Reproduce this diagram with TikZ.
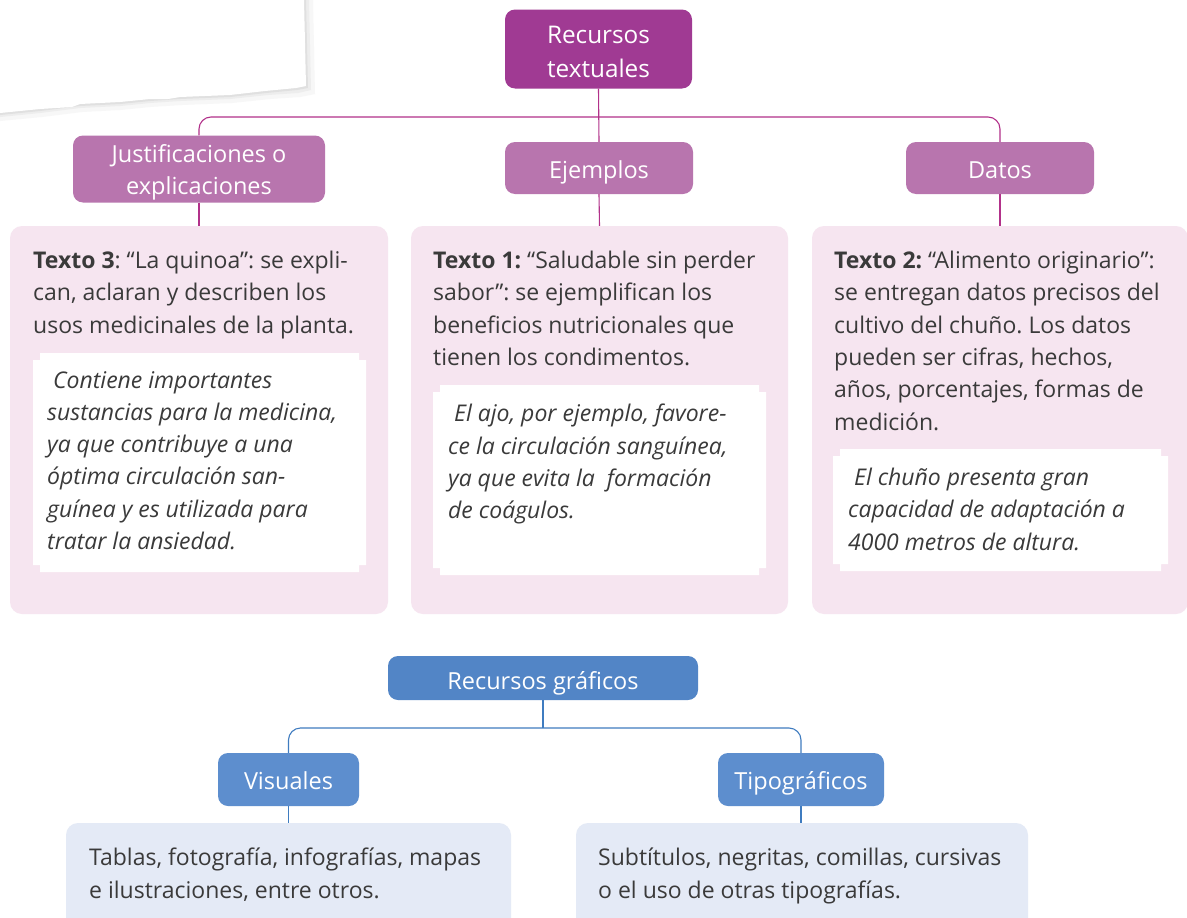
\documentclass[tikz,border=0pt]{standalone}
\usepackage{fontspec}
\setmainfont{Open Sans}
\frenchspacing
\definecolor{tmain}{HTML}{A03A93}
\definecolor{tchild}{HTML}{B875AE}
\definecolor{tline}{HTML}{B2318A}
\definecolor{tpink}{HTML}{F6E5F0}
\definecolor{bmain}{HTML}{5285C6}
\definecolor{bchild}{HTML}{5D8ECE}
\definecolor{bline}{HTML}{3F7CC0}
\definecolor{bpale}{HTML}{E4EAF6}
\definecolor{txt}{HTML}{3A3A3A}
\newcommand\notchbox[4]{%
  \fill[white] (#1+7,#2) -- (#3-7,#2) -- (#3-7,#2+7) -- (#3,#2+7) -- (#3,#4-7) -- (#3-7,#4-7) -- (#3-7,#4) -- (#1+7,#4) -- (#1+7,#4-7) -- (#1,#4-7) -- (#1,#2+7) -- (#1+7,#2+7) -- cycle;}
\tikzset{
  headbox/.style={rounded corners=10pt, inner sep=0pt},
  hlabel/.style={inner sep=0pt, text=white, align=center, font=\fontsize{23.5}{32}\selectfont},
  slabel/.style={inner sep=0pt, text=white, font=\fontsize{23.5}{32}\selectfont, text height=20pt, text depth=0pt},
  toplabel/.style={hlabel, font=\fontsize{24.3}{34}\selectfont},
  topbox/.style={headbox, fill=tmain},
  childbox/.style={headbox, fill=tchild},
  btopbox/.style={headbox, fill=bmain},
  bchildbox/.style={headbox, fill=bchild},
  pinkbox/.style={rounded corners=12pt, fill=tpink, inner sep=0pt},
  palebox/.style={rounded corners=12pt, fill=bpale, inner sep=0pt},
  bodytext/.style={anchor=north west, inner sep=0pt, align=left, text=txt, font=\fontsize{23}{32.3}\selectfont},
  itext/.style={bodytext, font=\fontsize{23}{32.3}\selectfont\itshape},
  tconn/.style={draw=tline, line width=1.1pt},
  bconn/.style={draw=bline, line width=1.1pt},
}
\begin{document}
\begin{tikzpicture}[x=1pt,y=-1pt]
\useasboundingbox (0,0) rectangle (1187,918);
\clip (0,0) rectangle (1187,918);
\fill[white] (0,0) rectangle (1187,918);
% torn paper with shadow
\fill[black!3] (313,0) -- (315,94) -- (300,97) -- (270,99) -- (232,103) -- (182,105) -- (150,107) -- (120,110) -- (82,112) -- (42,117) -- (0,121) -- (0,0) -- cycle;
\fill[black!7] (309,0) -- (311,90) -- (298,93) -- (268,95) -- (230,99) -- (180,101) -- (150,103) -- (120,106) -- (80,108) -- (40,113) -- (0,117) -- (0,0) -- cycle;
\fill[black!12] (306,0) -- (308,88) -- (297,90) -- (266,93) -- (230,97) -- (180,99) -- (150,101) -- (120,104) -- (80,106) -- (40,111) -- (0,115) -- (0,0) -- cycle;
\fill[white] (304,0) -- (306,86) -- (296,88) -- (265,91) -- (230,95) -- (205,96) -- (180,97) -- (168,99) -- (150,99) -- (120,102) -- (80,104) -- (72,107) -- (40,109) -- (0,113) -- (0,0) -- cycle;

% textual resources
\node[topbox, minimum width=187pt, minimum height=79pt, label={[toplabel, yshift=-3pt]center:{Recursos\\textuales}}] (rt) at (598.5,49) {};
\node[childbox, minimum width=252pt, minimum height=67pt, label={[hlabel, yshift=-3pt]center:{Justificaciones o\\explicaciones}}] (just) at (199,169) {};
\node[childbox, minimum width=188pt, minimum height=52pt, label={[slabel]center:Ejemplos}] (ej) at (599,168) {};
\node[childbox, minimum width=188pt, minimum height=52pt, label={[slabel]center:Datos}] (dat) at (1000,168) {};
\coordinate (thub) at (599,117);
\draw[tconn] (rt.south) -- (ej.north);
\draw[tconn, rounded corners=12pt] (just.north) |- (thub) -| (dat.north);

\node[pinkbox, minimum width=378pt, minimum height=388pt] (c1) at (199,420) {};
\node[pinkbox, minimum width=377pt, minimum height=388pt] (c2) at (599.5,420) {};
\node[pinkbox, minimum width=376pt, minimum height=388pt] (c3) at (1000,420) {};
\draw[tconn] (just.south) -- (c1.north);
\draw[tconn] (ej.south) -- (c2.north);
\draw[tconn] (dat.south) -- (c3.north);

\node[bodytext] (t1) at (33,251) {\textbf{Texto 3}: “La quinoa”: se expli-\\can, aclaran y describen los\\usos medicinales de la planta.};
\notchbox{33}{353}{366}{572}
\node[itext] (i1) at (47,371) {\ Contiene importantes\\sustancias para la medicina,\\ya que contribuye a una\\óptima circulación san-\\guínea y es utilizada para\\tratar la ansiedad.};

\node[bodytext] (t2) at (433,251) {\textbf{Texto 1:} “Saludable sin perder\\sabor”: se ejemplifican los\\beneficios nutricionales que\\tienen los condimentos.};
\notchbox{433}{385}{766}{575}
\node[itext] (i2) at (448,404) {\ El ajo, por ejemplo, favore-\\ce la circulación sanguínea,\\ya que evita la \ formación\\de coágulos.};

\node[bodytext] (t3) at (834,251) {\textbf{Texto 2:} “Alimento originario”:\\se entregan datos precisos del\\cultivo del chuño. Los datos\\pueden ser cifras, hechos,\\años, porcentajes, formas de\\medición.};
\notchbox{833}{449}{1168}{571}
\node[itext] (i3) at (848,468) {\ El chuño presenta gran\\capacidad de adaptación a\\4000 metros de altura.};

% graphic resources
\node[btopbox, minimum width=310pt, minimum height=44pt, label={[slabel, yshift=-1pt]center:Recursos gráficos}] (rg) at (543,678) {};
\node[bchildbox, minimum width=141pt, minimum height=53pt, label={[slabel]center:Visuales}] (vis) at (288.5,779.5) {};
\node[bchildbox, minimum width=166pt, minimum height=53pt, label={[slabel]center:Tipográficos}] (tip) at (801,779.5) {};
\coordinate (bhub) at (543,728);
\draw[bconn] (rg.south) -- (bhub);
\draw[bconn, rounded corners=12pt] (vis.north) |- (bhub) -| (tip.north);

\node[palebox, minimum width=445pt, minimum height=120pt] (c4) at (288.5,883) {};
\node[palebox, minimum width=452pt, minimum height=120pt] (c5) at (802,883) {};
\draw[bconn] (vis.south) -- (vis.south |- c4.north);
\draw[bconn] (tip.south) -- (tip.south |- c5.north);

\node[bodytext] (t4) at (89,848) {Tablas, fotografía, infografías, mapas\\e ilustraciones, entre otros.};
\node[bodytext] (t5) at (598,848) {Subtítulos, negritas, comillas, cursivas\\o el uso de otras tipografías.};
\end{tikzpicture}
\end{document}
